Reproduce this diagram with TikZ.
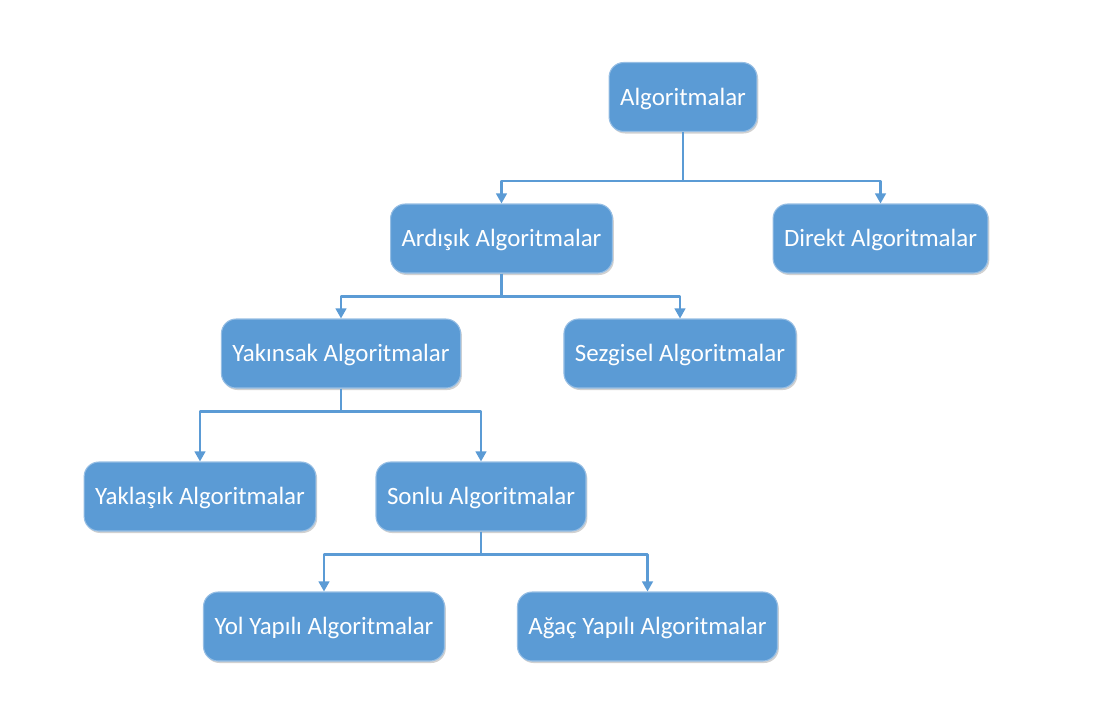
\documentclass[tikz,border=0pt]{standalone}
\usepackage{fontspec}
\setmainfont{Carlito}
\usetikzlibrary{arrows.meta,shadows}
\definecolor{boxblue}{RGB}{91,155,213}
\definecolor{boxedge}{RGB}{150,190,228}
\begin{document}
\begin{tikzpicture}[x=0.75pt, y=-0.75pt, line join=round, >={Triangle[width=8pt,length=7.5pt]},
    box/.style={rectangle, rounded corners=11pt, fill=boxblue, draw=boxedge, line width=0.8pt,
      text=white, font=\fontsize{18.7}{22}\selectfont, inner xsep=8.25pt, minimum height=51.75pt,
      text height=14.5pt, text depth=2pt,
      drop shadow={shadow xshift=1pt, shadow yshift=-1.5pt, opacity=0.18, fill=black}},
    conn/.style={->, draw=boxblue, line width=1.6pt}]
    \useasboundingbox (0,0) rectangle (1098,703);
    \node[box] (alg) at (683,97) {Algoritmalar};
    \node[box] (ard) at (501.5,238.5) {Ardışık Algoritmalar};
    \node[box] (dir) at (880.5,238.5) {Direkt Algoritmalar};
    \node[box] (yak) at (341,353.5) {Yakınsak Algoritmalar};
    \node[box] (sez) at (680,353.5) {Sezgisel Algoritmalar};
    \node[box] (ykl) at (200,496.5) {Yaklaşık Algoritmalar};
    \node[box] (son) at (481,496.5) {Sonlu Algoritmalar};
    \node[box] (yol) at (324,626.5) {Yol Yapılı Algoritmalar};
    \node[box] (aga) at (647.5,626.5) {Ağaç Yapılı Algoritmalar};
    % tree connectors
    \draw[conn] (alg.south) -- ++(0,49) -| (ard.north);
    \draw[conn] (alg.south) -- ++(0,49) -| (dir.north);
    \draw[conn] (ard.south) -- ++(0,23) -| (yak.north);
    \draw[conn] (ard.south) -- ++(0,23) -| (sez.north);
    \draw[conn] (yak.south) -- ++(0,23) -| (ykl.north);
    \draw[conn] (yak.south) -- ++(0,23) -| (son.north);
    \draw[conn] (son.south) -- ++(0,23) -| (yol.north);
    \draw[conn] (son.south) -- ++(0,23) -| (aga.north);
\end{tikzpicture}
\end{document}
